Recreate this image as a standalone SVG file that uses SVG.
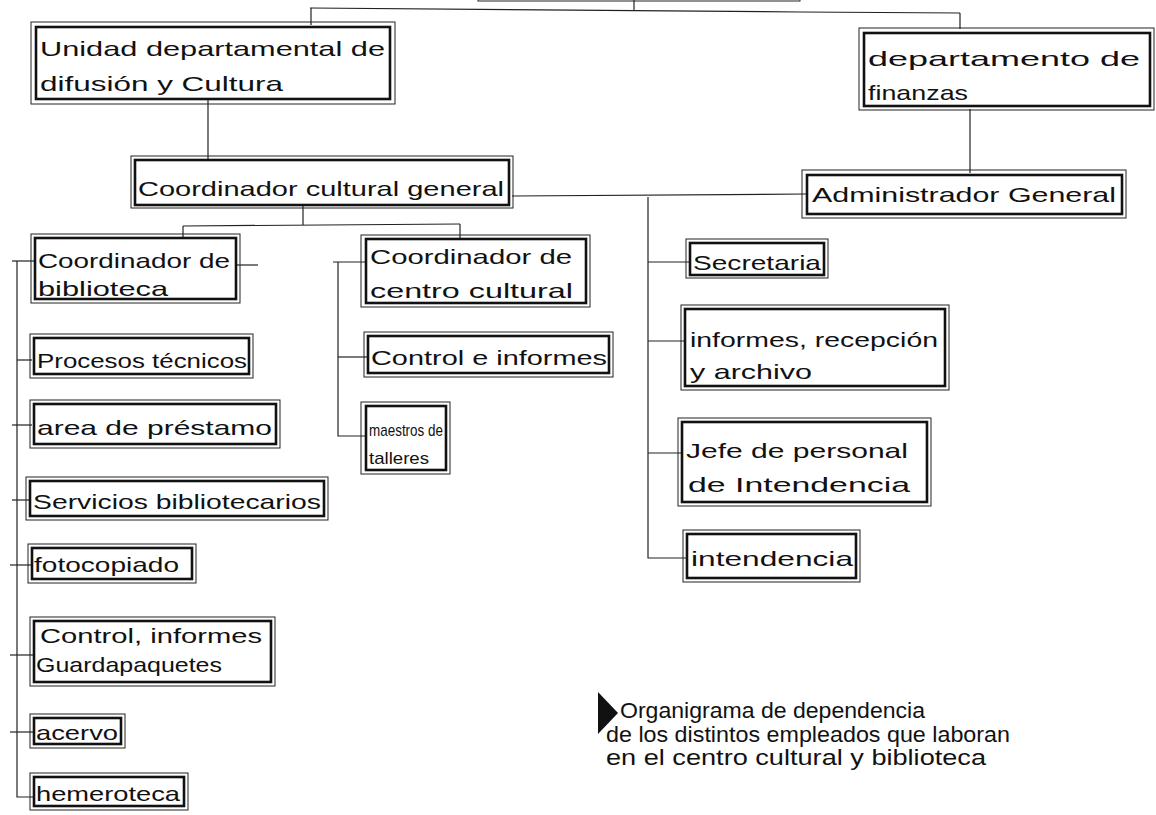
<svg xmlns="http://www.w3.org/2000/svg" width="1156" height="815" viewBox="0 0 1156 815">
<style>
  .bg{fill:#ffffff}
  .in{fill:none;stroke:#111;stroke-width:2.6}
  .out{fill:none;stroke:#222;stroke-width:1}
  .ln{fill:none;stroke:#222;stroke-width:1.2}
  text{font-family:"Liberation Sans","DejaVu Sans",sans-serif;font-size:21px;fill:#111}
  .sm{font-size:17px}
  .cap{font-size:22px}
</style>
<rect class="bg" x="0" y="0" width="1156" height="815"/>

<g id="connectors">
  <path class="ln" d="M634 0 V11"/>
  <path class="ln" d="M310 8 L800 12 L960 13"/>
  <path class="ln" d="M311 8 V25"/>
  <path class="ln" d="M960 13 V29"/>
  <path class="ln" d="M208 100 V159"/>
  <path class="ln" d="M970 109 V173"/>
  <path class="ln" d="M512 196 L806 194"/>
  <path class="ln" d="M303 205 V225"/>
  <path class="ln" d="M183 226 L460 224"/>
  <path class="ln" d="M183 226 V238"/>
  <path class="ln" d="M460 224 V238"/>
  <path class="ln" d="M648 197 V558 H686"/>
  <path class="ln" d="M648 262 H690"/>
  <path class="ln" d="M648 341 H684"/>
  <path class="ln" d="M648 453 H681"/>
  <path class="ln" d="M17 261 V797 H33"/>
  <path class="ln" d="M12 261 H34"/>
  <path class="ln" d="M237 265 H258"/>
  <path class="ln" d="M17 360 H32"/>
  <path class="ln" d="M12 425 H32"/>
  <path class="ln" d="M12 500 H29"/>
  <path class="ln" d="M10 565 H31"/>
  <path class="ln" d="M10 655 H33"/>
  <path class="ln" d="M10 732 H33"/>
  <path class="ln" d="M338 262 V436 H365"/>
  <path class="ln" d="M333 262 H366"/>
  <path class="ln" d="M338 357 H368"/>
</g>

<g id="node-top">
  <rect class="out" x="478" y="-30" width="322" height="31"/>
</g>

<g id="node-unidad">
  <rect class="out" x="31" y="22" width="364" height="82"/>
  <rect class="in" x="36" y="27" width="354" height="72"/>
  <text x="40" y="56" textLength="345" lengthAdjust="spacingAndGlyphs">Unidad departamental de</text>
  <text x="40" y="91" textLength="243" lengthAdjust="spacingAndGlyphs">difusión y Cultura</text>
</g>

<g id="node-finanzas">
  <rect class="out" x="859" y="28" width="295" height="82"/>
  <rect class="in" x="864" y="33" width="286" height="73"/>
  <text x="868" y="66" textLength="272" lengthAdjust="spacingAndGlyphs">departamento de</text>
  <text x="868" y="100" textLength="100" lengthAdjust="spacingAndGlyphs">finanzas</text>
</g>

<g id="node-coord-general">
  <rect class="out" x="131" y="156" width="382" height="52"/>
  <rect class="in" x="135" y="160" width="374" height="45"/>
  <text x="138" y="196" textLength="366" lengthAdjust="spacingAndGlyphs">Coordinador cultural general</text>
</g>

<g id="node-admin">
  <rect class="out" x="802" y="170" width="324" height="48"/>
  <rect class="in" x="807" y="175" width="315" height="39"/>
  <text x="812" y="202" textLength="304" lengthAdjust="spacingAndGlyphs">Administrador General</text>
</g>

<g id="node-coord-biblioteca">
  <rect class="out" x="31" y="234" width="209" height="69"/>
  <rect class="in" x="35" y="238" width="201" height="61"/>
  <text x="38" y="268" textLength="192" lengthAdjust="spacingAndGlyphs">Coordinador de</text>
  <text x="38" y="296" textLength="130" lengthAdjust="spacingAndGlyphs">biblioteca</text>
</g>

<g id="node-coord-centro">
  <rect class="out" x="361" y="235" width="229" height="72"/>
  <rect class="in" x="366" y="239" width="220" height="64"/>
  <text x="370" y="264" textLength="202" lengthAdjust="spacingAndGlyphs">Coordinador de</text>
  <text x="370" y="298" textLength="203" lengthAdjust="spacingAndGlyphs">centro cultural</text>
</g>

<g id="node-secretaria">
  <rect class="out" x="686" y="239" width="142" height="39"/>
  <rect class="in" x="690" y="243" width="134" height="32"/>
  <text x="693" y="270" textLength="128" lengthAdjust="spacingAndGlyphs">Secretaria</text>
</g>

<g id="node-procesos">
  <rect class="out" x="30" y="334" width="223" height="44"/>
  <rect class="in" x="34" y="338" width="215" height="36"/>
  <text x="37" y="368" textLength="210" lengthAdjust="spacingAndGlyphs">Procesos técnicos</text>
</g>

<g id="node-control-informes">
  <rect class="out" x="364" y="332" width="249" height="45"/>
  <rect class="in" x="368" y="336" width="241" height="37"/>
  <text x="371" y="365" textLength="236" lengthAdjust="spacingAndGlyphs">Control e informes</text>
</g>

<g id="node-informes-recepcion">
  <rect class="out" x="681" y="305" width="268" height="85"/>
  <rect class="in" x="685" y="309" width="260" height="77"/>
  <text x="690" y="347" textLength="248" lengthAdjust="spacingAndGlyphs">informes, recepción</text>
  <text x="690" y="379" textLength="122" lengthAdjust="spacingAndGlyphs">y archivo</text>
</g>

<g id="node-area-prestamo">
  <rect class="out" x="30" y="400" width="250" height="48"/>
  <rect class="in" x="34" y="404" width="242" height="40"/>
  <text x="37" y="435" textLength="235" lengthAdjust="spacingAndGlyphs">area de préstamo</text>
</g>

<g id="node-maestros">
  <rect class="out" x="361" y="402" width="89" height="72"/>
  <rect class="in" x="366" y="406" width="80" height="64"/>
  <text class="sm" x="369" y="436" textLength="74" lengthAdjust="spacingAndGlyphs">maestros de</text>
  <text class="sm" x="369" y="464" textLength="60" lengthAdjust="spacingAndGlyphs">talleres</text>
</g>

<g id="node-jefe-personal">
  <rect class="out" x="678" y="418" width="253" height="88"/>
  <rect class="in" x="682" y="422" width="245" height="80"/>
  <text x="686" y="458" textLength="222" lengthAdjust="spacingAndGlyphs">Jefe de personal</text>
  <text x="688" y="492" textLength="222" lengthAdjust="spacingAndGlyphs">de Intendencia</text>
</g>

<g id="node-servicios">
  <rect class="out" x="26" y="477" width="302" height="43"/>
  <rect class="in" x="30" y="481" width="294" height="35"/>
  <text x="33" y="509" textLength="288" lengthAdjust="spacingAndGlyphs">Servicios bibliotecarios</text>
</g>

<g id="node-intendencia">
  <rect class="out" x="683" y="530" width="177" height="52"/>
  <rect class="in" x="687" y="534" width="169" height="44"/>
  <text x="691" y="566" textLength="162" lengthAdjust="spacingAndGlyphs">intendencia</text>
</g>

<g id="node-fotocopiado">
  <rect class="out" x="28" y="544" width="168" height="39"/>
  <rect class="in" x="32" y="548" width="160" height="31"/>
  <text x="34" y="572" textLength="145" lengthAdjust="spacingAndGlyphs">fotocopiado</text>
</g>

<g id="node-control-guardapaquetes">
  <rect class="out" x="30" y="617" width="245" height="69"/>
  <rect class="in" x="34" y="621" width="237" height="61"/>
  <text x="40" y="643" textLength="222" lengthAdjust="spacingAndGlyphs">Control, informes</text>
  <text x="36" y="672" textLength="186" lengthAdjust="spacingAndGlyphs">Guardapaquetes</text>
</g>

<g id="node-acervo">
  <rect class="out" x="30" y="714" width="95" height="34"/>
  <rect class="in" x="34" y="718" width="87" height="26"/>
  <text x="36" y="740" textLength="82" lengthAdjust="spacingAndGlyphs">acervo</text>
</g>

<g id="node-hemeroteca">
  <rect class="out" x="30" y="773" width="158" height="37"/>
  <rect class="in" x="34" y="777" width="150" height="29"/>
  <text x="36" y="801" textLength="144" lengthAdjust="spacingAndGlyphs">hemeroteca</text>
</g>

<g id="caption">
  <polygon points="598,692 618,713 598,734" fill="#111"/>
  <text class="cap" x="620" y="718" textLength="305" lengthAdjust="spacingAndGlyphs">Organigrama de dependencia</text>
  <text class="cap" x="606" y="742" textLength="404" lengthAdjust="spacingAndGlyphs">de los distintos empleados que laboran</text>
  <text class="cap" x="606" y="765" textLength="380" lengthAdjust="spacingAndGlyphs">en el centro cultural y biblioteca</text>
</g>
</svg>
